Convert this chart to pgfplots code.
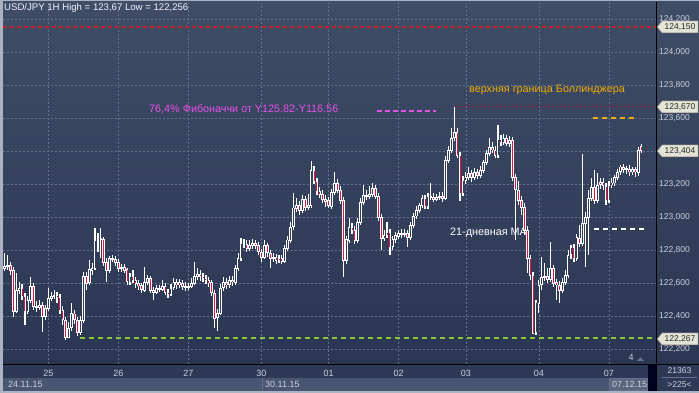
\documentclass[border=0pt]{standalone}
\usepackage{pgfplots}
\pgfplotsset{compat=1.18}
\usepackage{pgfplotstable}
\usepackage{fontspec}
\setmainfont{Liberation Sans}
\definecolor{bgtop}{RGB}{63,77,103}
\definecolor{bgbot}{RGB}{43,54,82}
\definecolor{gridc}{RGB}{98,113,143}
\definecolor{lbl}{RGB}{200,208,222}
\definecolor{bear}{RGB}{228,20,62}
\definecolor{bodyin}{RGB}{50,62,90}
\definecolor{fibo}{RGB}{230,80,230}
\definecolor{boll}{RGB}{240,172,0}
\definecolor{lowg}{RGB}{140,198,63}
\definecolor{redl}{RGB}{200,30,40}
\definecolor{darkred}{RGB}{150,25,40}
\definecolor{tagfill}{RGB}{228,228,214}
\definecolor{strip1}{RGB}{46,57,86}
\definecolor{strip2}{RGB}{72,86,113}
\definecolor{edge}{RGB}{170,178,195}
\pgfplotstableread{
i o h l c
0 122.691 122.782 122.673 122.703
1 122.703 122.770 122.679 122.709
2 122.709 122.727 122.648 122.679
3 122.679 122.697 122.394 122.430
4 122.430 122.661 122.418 122.557
5 122.557 122.606 122.533 122.570
6 122.570 122.594 122.497 122.521
7 122.521 122.539 122.345 122.430
8 122.430 122.521 122.412 122.497
9 122.497 122.636 122.479 122.582
10 122.582 122.600 122.436 122.460
11 122.460 122.491 122.424 122.454
12 122.454 122.497 122.436 122.467
13 122.467 122.485 122.303 122.400
14 122.400 122.467 122.376 122.448
15 122.448 122.570 122.430 122.509
16 122.509 122.545 122.491 122.521
17 122.521 122.557 122.503 122.527
18 122.527 122.545 122.479 122.515
19 122.515 122.533 122.412 122.436
20 122.436 122.460 122.345 122.376
21 122.376 122.394 122.256 122.273
22 122.273 122.364 122.267 122.327
23 122.327 122.479 122.309 122.412
24 122.412 122.436 122.351 122.376
25 122.376 122.394 122.279 122.303
26 122.303 122.400 122.285 122.376
27 122.376 122.667 122.358 122.642
28 122.642 122.667 122.557 122.600
29 122.600 122.739 122.588 122.679
30 122.679 122.721 122.648 122.691
31 122.691 122.933 122.679 122.861
32 122.861 122.903 122.788 122.867
33 122.867 122.933 122.751 122.861
34 122.861 122.879 122.703 122.727
35 122.727 122.751 122.606 122.679
36 122.679 122.763 122.661 122.751
37 122.751 122.770 122.727 122.745
38 122.745 122.763 122.703 122.727
39 122.727 122.745 122.667 122.691
40 122.691 122.715 122.667 122.697
41 122.697 122.715 122.661 122.679
42 122.679 122.691 122.588 122.606
43 122.606 122.661 122.588 122.642
44 122.642 122.679 122.600 122.618
45 122.618 122.636 122.570 122.594
46 122.594 122.618 122.557 122.582
47 122.582 122.600 122.539 122.557
48 122.557 122.697 122.545 122.606
49 122.606 122.648 122.588 122.630
50 122.630 122.642 122.539 122.557
51 122.557 122.576 122.497 122.545
52 122.545 122.588 122.533 122.570
53 122.570 122.588 122.545 122.564
54 122.564 122.618 122.551 122.582
55 122.582 122.600 122.527 122.545
56 122.545 122.564 122.509 122.533
57 122.533 122.594 122.521 122.570
58 122.570 122.630 122.557 122.600
59 122.600 122.624 122.564 122.588
60 122.588 122.624 122.570 122.600
61 122.600 122.618 122.557 122.582
62 122.582 122.606 122.551 122.576
63 122.576 122.600 122.557 122.582
64 122.582 122.630 122.570 122.600
65 122.600 122.727 122.588 122.642
66 122.642 122.691 122.618 122.654
67 122.654 122.679 122.612 122.642
68 122.642 122.661 122.606 122.630
69 122.630 122.648 122.594 122.618
70 122.618 122.636 122.576 122.600
71 122.600 122.618 122.521 122.539
72 122.539 122.557 122.327 122.388
73 122.388 122.442 122.309 122.418
74 122.418 122.594 122.406 122.570
75 122.570 122.636 122.551 122.600
76 122.600 122.630 122.564 122.588
77 122.588 122.642 122.570 122.618
78 122.618 122.642 122.582 122.606
79 122.606 122.709 122.588 122.691
80 122.691 122.782 122.673 122.751
81 122.751 122.873 122.733 122.842
82 122.842 122.867 122.812 122.836
83 122.836 122.861 122.788 122.812
84 122.812 122.861 122.794 122.830
85 122.830 122.867 122.806 122.842
86 122.842 122.861 122.806 122.830
87 122.830 122.848 122.770 122.788
88 122.788 122.806 122.727 122.757
89 122.757 122.861 122.745 122.830
90 122.830 122.842 122.757 122.782
91 122.782 122.800 122.691 122.751
92 122.751 122.782 122.727 122.757
93 122.757 122.776 122.715 122.739
94 122.739 122.770 122.721 122.751
95 122.751 122.770 122.715 122.733
96 122.733 122.830 122.721 122.812
97 122.812 122.885 122.794 122.861
98 122.861 122.970 122.842 122.939
99 122.939 123.145 122.921 123.054
100 123.054 123.115 123.030 123.073
101 123.073 123.097 123.012 123.042
102 123.042 123.133 123.024 123.109
103 123.109 123.127 123.036 123.060
104 123.060 123.139 123.042 123.073
105 123.073 123.339 123.054 123.285
106 123.285 123.309 123.200 123.218
107 123.218 123.236 123.133 123.157
108 123.157 123.182 123.115 123.139
109 123.139 123.164 123.085 123.109
110 123.109 123.133 123.060 123.097
111 123.097 123.121 123.054 123.067
112 123.067 123.170 123.048 123.151
113 123.151 123.273 123.133 123.206
114 123.206 123.230 123.145 123.164
115 123.164 123.188 123.079 123.103
116 123.103 123.121 122.636 122.739
117 122.739 122.885 122.715 122.861
118 122.861 122.994 122.842 122.939
119 122.939 122.963 122.897 122.921
120 122.921 122.945 122.836 122.861
121 122.861 122.994 122.842 122.970
122 122.970 123.115 122.951 123.091
123 123.091 123.194 123.073 123.133
124 123.133 123.164 123.103 123.127
125 123.127 123.188 123.109 123.139
126 123.139 123.206 123.121 123.176
127 123.176 123.194 123.109 123.127
128 123.127 123.145 122.976 123.000
129 123.000 123.018 122.800 122.873
130 122.873 122.921 122.854 122.891
131 122.891 122.970 122.873 122.909
132 122.909 122.927 122.770 122.818
133 122.818 122.885 122.800 122.861
134 122.861 122.909 122.842 122.885
135 122.885 122.921 122.867 122.903
136 122.903 122.927 122.873 122.897
137 122.897 122.927 122.879 122.903
138 122.903 122.921 122.818 122.879
139 122.879 122.970 122.861 122.951
140 122.951 123.024 122.933 123.006
141 123.006 123.067 122.988 123.042
142 123.042 123.085 123.024 123.073
143 123.073 123.133 123.054 123.115
144 123.115 123.133 123.048 123.067
145 123.067 123.145 123.048 123.127
146 123.127 123.206 123.103 123.121
147 123.121 123.145 123.091 123.109
148 123.109 123.139 123.097 123.121
149 123.121 123.151 123.103 123.127
150 123.127 123.151 123.091 123.115
151 123.115 123.370 123.103 123.345
152 123.345 123.430 123.327 123.406
153 123.406 123.539 123.388 123.479
154 123.479 123.670 123.461 123.515
155 123.515 123.539 123.357 123.376
156 123.376 123.394 123.097 123.145
157 123.145 123.248 123.127 123.224
158 123.224 123.273 123.200 123.242
159 123.242 123.303 123.224 123.266
160 123.266 123.285 123.212 123.242
161 123.242 123.297 123.224 123.273
162 123.273 123.291 123.230 123.254
163 123.254 123.309 123.236 123.285
164 123.285 123.345 123.266 123.333
165 123.333 123.406 123.315 123.388
166 123.388 123.479 123.370 123.424
167 123.424 123.454 123.388 123.406
168 123.406 123.430 123.357 123.376
169 123.376 123.557 123.357 123.473
170 123.473 123.497 123.430 123.454
171 123.454 123.503 123.436 123.479
172 123.479 123.497 123.430 123.448
173 123.448 123.491 123.424 123.467
174 123.467 123.485 123.218 123.242
175 123.242 123.260 122.861 123.164
176 123.164 123.218 123.073 123.103
177 123.103 123.127 123.012 123.060
178 123.060 123.085 122.891 122.921
179 122.921 122.945 122.661 122.751
180 122.751 122.770 122.618 122.648
181 122.648 122.667 122.291 122.297
182 122.297 122.497 122.285 122.479
183 122.479 122.618 122.418 122.588
184 122.588 122.757 122.557 122.636
185 122.636 122.721 122.612 122.642
186 122.642 122.691 122.600 122.624
187 122.624 122.848 122.606 122.691
188 122.691 122.709 122.576 122.600
189 122.600 122.624 122.497 122.588
190 122.588 122.612 122.479 122.557
191 122.557 122.630 122.539 122.606
192 122.606 122.679 122.588 122.648
193 122.648 122.800 122.630 122.770
194 122.770 122.830 122.745 122.818
195 122.818 122.836 122.727 122.751
196 122.751 122.897 122.733 122.873
197 122.873 122.951 122.818 122.842
198 122.842 123.382 122.824 122.963
199 122.963 123.030 122.697 123.000
200 123.000 123.164 122.770 123.115
201 123.115 123.236 123.097 123.182
202 123.182 123.285 123.079 123.103
203 123.103 123.266 123.085 123.194
204 123.194 123.236 123.170 123.212
205 123.212 123.236 123.164 123.188
206 123.188 123.206 123.073 123.103
207 123.103 123.218 123.085 123.194
208 123.194 123.236 123.176 123.206
209 123.206 123.254 123.188 123.242
210 123.242 123.291 123.224 123.273
211 123.273 123.315 123.254 123.303
212 123.303 123.321 123.266 123.291
213 123.291 123.309 123.260 123.285
214 123.285 123.315 123.248 123.273
215 123.273 123.303 123.254 123.285
216 123.285 123.303 123.242 123.273
217 123.273 123.424 123.248 123.406
218 123.430 123.442 123.388 123.404
}\candles
\newcommand\pricetag[2]{%
  \filldraw[fill=tagfill, draw=black!55, line width=0.5pt] (657,#1) -- (662,#1+6) -- (698,#1+6) -- (698,#1-6) -- (662,#1-6) -- cycle;
  \node[font=\fontsize{8.5}{10}\selectfont, text=black!85, inner sep=0pt] at (680,#1) {#2};}
\begin{document}
\begin{tikzpicture}[x=1pt,y=1pt]
\fill[edge] (0,0) rectangle (699,393);
\shade[top color=bgtop, bottom color=bgbot] (3,29) rectangle (699,391);
\fill[strip1] (3,15) rectangle (699,29);
\fill[strip2] (3,2) rectangle (656,15);
\fill[strip1] (656,2) rectangle (699,15);
\begin{axis}[at={(3pt,29pt)}, anchor=south west, scale only axis,
  width=653pt, height=361pt,
  xmin=-0.51, xmax=223.1, ymin=122.109, ymax=124.297,
  axis line style={draw=none}, major tick length=0pt, tick style={draw=none},
  xtick={15,39,63,88,111,135,158,183,207},
  xticklabels={25,26,27,30,01,02,03,04,07},
  ytick={122.2,122.4,122.6,122.8,123,123.2,123.6,123.8,124,124.2},
  extra y ticks={123.4}, extra y tick labels={},
  extra y tick style={grid=major},
  yticklabel pos=right,
  /pgf/number format/assume math mode=true,
  yticklabel style={font=\fontsize{8.5}{10}\selectfont, text=lbl, anchor=west, inner sep=0pt, xshift=3pt,
    /pgf/number format/.cd, fixed, fixed zerofill, precision=3, use comma, 1000 sep={}},
  xticklabel style={font=\fontsize{9}{10}\selectfont, text=lbl, anchor=center, inner sep=0pt, yshift=-9pt},
  grid=major, major grid style={gridc, line width=0.6pt, dash pattern=on 2pt off 2pt},
]
% wicks
\addplot[draw=none, mark=none, forget plot,
  error bars/.cd, y dir=both, y explicit, error mark=none, error bar style={white, line width=1.15pt}]
  table[x=i, y expr={(\thisrow{h}+\thisrow{l})/2}, y error expr={(\thisrow{h}-\thisrow{l})/2}] {\candles};
% body outline
\addplot[draw=none, mark=none, forget plot,
  error bars/.cd, y dir=both, y explicit, error mark=none, error bar style={white, line width=2.7pt}]
  table[x=i, y expr={(\thisrow{o}+\thisrow{c})/2}, y error expr={abs(\thisrow{o}-\thisrow{c})/2+0.003}] {\candles};
% bullish interior
\addplot[draw=none, mark=none, forget plot,
  error bars/.cd, y dir=both, y explicit, error mark=none, error bar style={bodyin, line width=0.9pt}]
  table[x=i, y expr={(\thisrow{o}+\thisrow{c})/2}, y error expr={ifthenelse(\thisrow{c}>\thisrow{o}, max(abs(\thisrow{o}-\thisrow{c})/2-0.003,0), 0)}] {\candles};
% bearish interior
\addplot[draw=none, mark=none, forget plot,
  error bars/.cd, y dir=both, y explicit, error mark=none, error bar style={bear, line width=1pt}]
  table[x=i, y expr={(\thisrow{o}+\thisrow{c})/2}, y error expr={ifthenelse(\thisrow{o}>\thisrow{c}, max(abs(\thisrow{o}-\thisrow{c})/2-0.003,0), 0)}] {\candles};
% level lines
\addplot[redl, line width=2pt, dash pattern=on 4pt off 3pt, forget plot] coordinates {(-0.51,124.15) (223.1,124.15)};
\addplot[darkred, line width=1pt, dash pattern=on 2pt off 2pt, forget plot] coordinates {(154.6,123.67) (223.1,123.67)};
\addplot[fibo, line width=2pt, dash pattern=on 5pt off 3pt, forget plot] coordinates {(127.6,123.642) (147.8,123.642)};
\addplot[boll, line width=2pt, dash pattern=on 5pt off 4pt, forget plot] coordinates {(201.5,123.600) (216.6,123.600)};
\addplot[white, line width=2pt, dash pattern=on 5pt off 4pt, forget plot] coordinates {(201.9,122.927) (219.7,122.927)};
\addplot[lowg, line width=2pt, dash pattern=on 5pt off 4pt, forget plot] coordinates {(25.9,122.267) (223.1,122.267)};
\end{axis}
% frame lines
\draw[black, line width=1pt] (3,28.5) -- (699,28.5);
\draw[black, line width=1pt] (656.5,2) -- (656.5,391);
% texts
\node[anchor=west, inner sep=0pt, text=white!95!blue, font=\fontsize{9.6}{11}\selectfont] at (4,385) {USD/JPY 1H High = 123,67 Low = 122,256};
\node[anchor=west, inner sep=0pt, text=fibo, font=\fontsize{10.8}{12}\selectfont] at (149,284) {76,4\% Фибоначчи от Y125.82-Y116.56};
\node[anchor=west, inner sep=0pt, text=boll, font=\fontsize{10.8}{12}\selectfont] at (469,303) {верхняя граница Боллинджера};
\node[anchor=west, inner sep=0pt, text=white, font=\fontsize{10.8}{12}\selectfont] at (450,160) {21-дневная MA};
% price tags
\pricetag{366}{124,150}
\pricetag{286}{123,670}
\pricetag{242}{123,404}
\pricetag{54}{122,267}
% bottom strip
\draw[gridc, line width=0.8pt] (262,2) -- (262,15);
\node[anchor=west, inner sep=0pt, text=lbl, font=\fontsize{9}{10}\selectfont] at (8,9) {24.11.15};
\node[anchor=west, inner sep=0pt, text=lbl, font=\fontsize{9}{10}\selectfont] at (265,9) {30.11.15};
\filldraw[fill=strip2!90!white, draw=gridc, line width=0.5pt] (609,2.5) rectangle (647,15);
\node[anchor=west, inner sep=0pt, text=lbl, font=\fontsize{9}{10}\selectfont] at (612,9) {07.12.15};
\fill[black!70!blue!40!black] (648,2) rectangle (656,28);
\node[inner sep=0pt, text=lbl, font=\fontsize{8.5}{10}\selectfont] at (679.5,22) {21363};
\draw[gridc, line width=0.6pt] (662,15.5) -- (697,15.5);
\node[inner sep=0pt, text=lbl, font=\fontsize{8.5}{10}\selectfont] at (679.5,8.5) {>225<};
\node[inner sep=0pt, text=lbl, font=\fontsize{9}{10}\selectfont] at (631,36) {4};
\fill[gridc] (637,32) -- (644,32) -- (640.5,36) -- cycle;
\pgfresetboundingbox
\path[use as bounding box] (0,0) rectangle (699,393);
\end{tikzpicture}
\end{document}
